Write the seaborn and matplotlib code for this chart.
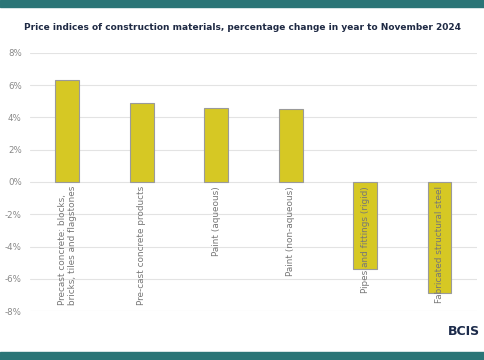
import pandas as pd
import numpy as np
import seaborn as sns
import matplotlib.pyplot as plt
from matplotlib.patches import Rectangle

categorias = ['Precast concrete: blocks,\nbricks, tiles and flagstones',
              'Pre-cast concrete products',
              'Paint (aqueous)',
              'Paint (non-aqueous)',
              'Pipes and fittings (rigid)',
              'Fabricated structural steel']
valores = [6.3, 4.9, 4.6, 4.5, -5.4, -6.9]
ticks_y = [-8, -6, -4, -2, 0, 2, 4, 6, 8]

df = pd.DataFrame({'cat': categorias, 'val': valores})

sns.set_style('white')
fig = plt.figure(figsize=(4.85, 3.6), dpi=100)
ax = fig.add_axes([0.062, 0.136, 0.921, 0.717])

sns.barplot(data=df, x='cat', y='val', color='#d6c824', width=0.32,
            edgecolor='#9a9a9a', linewidth=0.8, saturation=1, ax=ax, zorder=3)

ax.set_ylim(-8, 8)
ax.set_yticks(ticks_y)
ax.set_yticklabels([f'{t}%' for t in ticks_y], color='#888888', fontsize=6.2)
ax.tick_params(axis='y', length=0, pad=6)
ax.set_xticks(range(len(categorias)))
ax.set_xticklabels([])
ax.tick_params(axis='x', length=0)
ax.set_xlabel('')
ax.set_ylabel('')
ax.grid(axis='y', color='#e3e3e3', linewidth=0.8, zorder=0)
for s in ax.spines.values():
    s.set_visible(False)

# etiquetas de categoria debajo de la linea de cero
for i, c in enumerate(categorias):
    ax.text(i, -0.25, c, rotation=90, ha='center', va='top', fontsize=6.4,
            color='#777777', multialignment='left', zorder=5)

fig.text(0.5, 0.925, 'Price indices of construction materials, percentage change in year to November 2024',
         ha='center', va='center', fontsize=6.5, fontweight='bold', color='#1f2a44')

# bandas de color arriba y abajo
fig.patches.append(Rectangle((0, 0.98), 1, 0.02, transform=fig.transFigure, color='#2b7577', zorder=0))
fig.patches.append(Rectangle((0, 0), 1, 0.022, transform=fig.transFigure, color='#2b7577', zorder=0))

fig.text(0.99, 0.078, 'BCIS', ha='right', va='center', fontsize=9, fontweight='bold', color='#1b2a4a')

plt.savefig('out.png', dpi=100)
